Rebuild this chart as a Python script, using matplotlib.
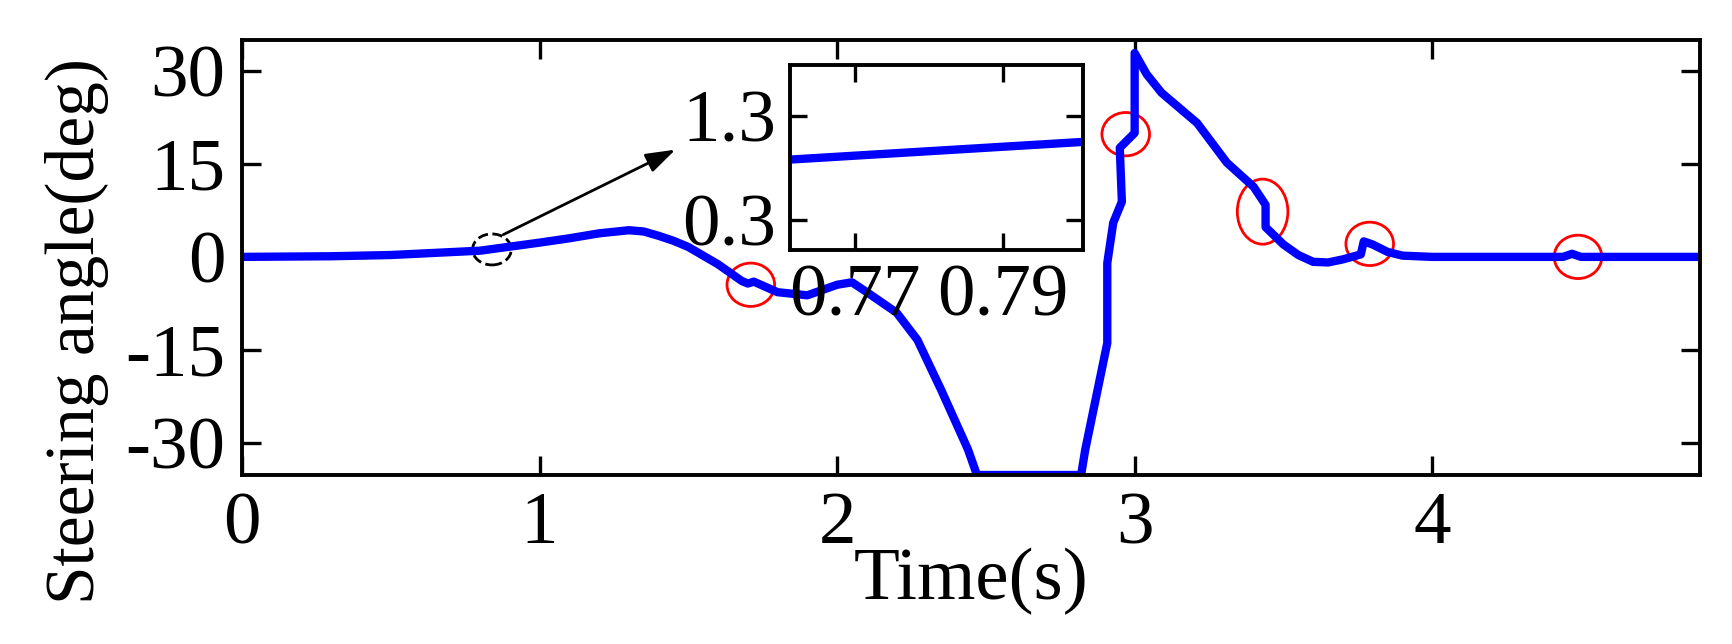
import matplotlib
matplotlib.use('Agg')
import matplotlib.pyplot as plt
from matplotlib.patches import Ellipse

plt.rcParams['font.family'] = ['Liberation Serif', 'DejaVu Serif']
plt.rcParams['axes.unicode_minus'] = False

# steering angle trace
time_s = [0.0, 0.3, 0.5, 0.8, 1.0, 1.1, 1.2, 1.3, 1.35, 1.4, 1.45, 1.5, 1.6, 1.68, 1.7, 1.72,
          1.8, 1.9, 2.0, 2.05, 2.1, 2.2, 2.27, 2.35, 2.44, 2.47, 2.82, 2.834, 2.908, 2.908,
          2.928, 2.957, 2.95, 3.0, 3.0, 3.04, 3.09, 3.21, 3.31, 3.40, 3.44, 3.44, 3.5, 3.55,
          3.6, 3.65, 3.7, 3.76, 3.77, 3.8, 3.85, 3.9, 4.0, 4.44, 4.47, 4.5, 4.9]
angle_deg = [0.0, 0.1, 0.3, 1.0, 2.3, 3.0, 3.8, 4.3, 4.1, 3.4, 2.6, 1.6, -1.2, -3.9, -4.3, -4.0,
             -5.7, -6.2, -4.5, -4.1, -5.7, -9.0, -13.4, -21.5, -31.1, -35.2, -35.2, -31.1, -13.9,
             -1.0, 5.5, 8.9, 17.6, 20.0, 32.9, 29.5, 26.5, 21.6, 15.2, 11.3, 8.4, 4.8, 2.0, 0.3,
             -0.8, -0.9, -0.4, 0.4, 2.5, 2.0, 0.8, 0.2, 0.0, 0.0, 0.5, 0.0, 0.0]

# zoomed segment for inset
inset_t = [0.7612, 0.8008]
inset_a = [0.88, 1.05]

# marked spots (centre x, centre y, width, height)
circle_x = [1.71, 2.97, 3.43, 3.79, 4.49]
circle_y = [-4.5, 19.8, 7.3, 2.1, 0.0]
circle_w = [0.16, 0.16, 0.17, 0.16, 0.16]
circle_h = [7.0, 7.0, 10.5, 7.0, 7.0]

fig = plt.figure(figsize=(17.32, 6.44), dpi=100)
ax = fig.add_axes([242/1732, 1 - 475/644, (1700-242)/1732, (475-40)/644])
ax.plot(time_s, angle_deg, color='blue', lw=6)
ax.set_xlim(0, 4.9)
ax.set_ylim(-35.2, 35.0)
ax.set_xticks([0, 1, 2, 3, 4])
ax.set_yticks([-30, -15, 0, 15, 30])
ax.tick_params(direction='in', length=14, width=2.4, labelsize=54, pad=12,
               top=True, right=True)
for s in ax.spines.values():
    s.set_linewidth(2.8)
ax.set_xlabel('Time(s)', fontsize=54, labelpad=-8)
ax.set_ylabel('Steering angle(deg)', fontsize=50, labelpad=12, y=0.33)

for cx, cy, w, h in zip(circle_x, circle_y, circle_w, circle_h):
    ax.add_patch(Ellipse((cx, cy), w, h, fill=False, ec='red', lw=2))

ax.add_patch(Ellipse((0.84, 1.2), 0.13, 5.0, fill=False, ec='black', lw=2, ls='--'))
ax.annotate('', xy=(1.465, 17.5), xytext=(0.87, 3.4),
            arrowprops=dict(arrowstyle='-|>,head_length=1.8,head_width=0.6',
                            color='black', lw=2))

ins = fig.add_axes([790/1732, 1 - 250/644, (1083-790)/1732, (250-65)/644])
ins.plot(inset_t, inset_a, color='blue', lw=6)
ins.set_xlim(0.7612, 0.8008)
ins.set_ylim(0.01, 1.79)
ins.set_xticks([0.77, 0.79])
ins.set_yticks([0.3, 1.3])
ins.tick_params(direction='in', length=12, width=2.4, labelsize=54, pad=10,
                top=True, right=True)
for s in ins.spines.values():
    s.set_linewidth(2.8)

fig.savefig('out.png', dpi=100)
